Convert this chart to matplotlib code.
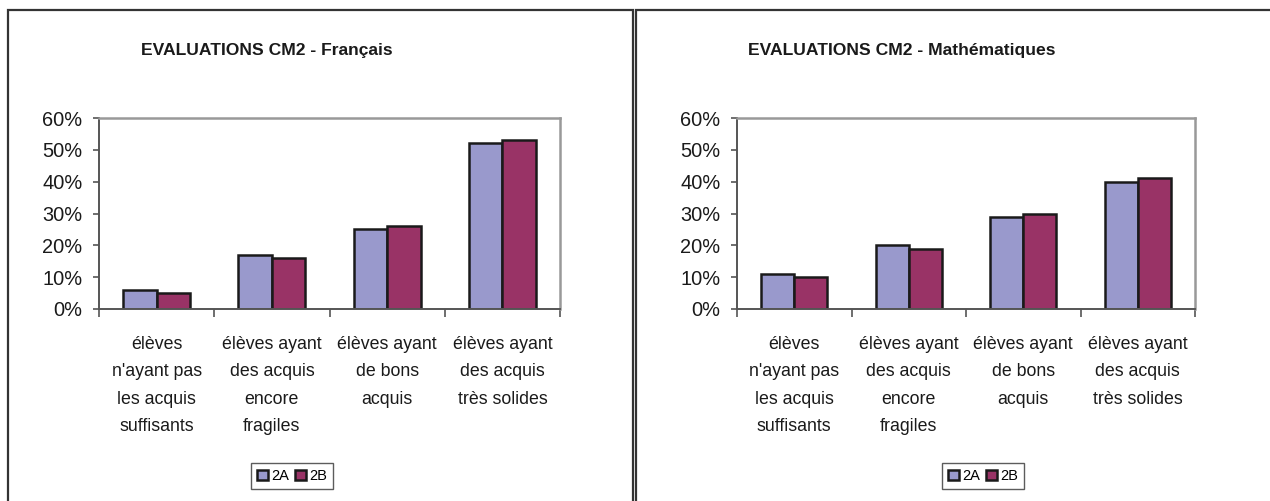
import matplotlib
matplotlib.use("Agg")
import matplotlib.pyplot as plt
from matplotlib.patches import Rectangle
from matplotlib.transforms import offset_copy
import numpy as np

plt.rcParams['font.family'] = ['Liberation Sans', 'DejaVu Sans']

categories = ["élèves\nn'ayant pas\nles acquis\nsuffisants",
              "élèves ayant\ndes acquis\nencore\nfragiles",
              "élèves ayant\nde bons\nacquis",
              "élèves ayant\ndes acquis\ntrès solides"]
series_names = ["2A", "2B"]
fr_2A = [6, 17, 25, 52]
fr_2B = [5, 16, 26, 53]
ma_2A = [11, 20, 29, 40]
ma_2B = [10, 19, 30, 41]
titles = ["EVALUATIONS CM2 - Français", "EVALUATIONS CM2 - Mathématiques"]
yticks = [0, 10, 20, 30, 40, 50, 60]
ytick_labels = ["0%", "10%", "20%", "30%", "40%", "50%", "60%"]

col_a = "#9999CC"
col_b = "#993366"

W, H = 1270, 501
fig = plt.figure(figsize=(W / 100, H / 100), dpi=100)

def fx(px):
    return px / W

def fy(py):
    return 1 - py / H

# panel borders
for (x0, x1) in [(8, 633), (636, 1300)]:
    fig.patches.append(Rectangle((fx(x0), fy(540)), fx(x1 - x0), (540 - 10) / H,
                                 transform=fig.transFigure, fill=False,
                                 edgecolor="#333333", linewidth=1.6, zorder=0))

panels = [
    dict(a=fr_2A, b=fr_2B, title=titles[0], ax=(99, 560), tx=267, lx=292),
    dict(a=ma_2A, b=ma_2B, title=titles[1], ax=(737, 1195), tx=902, lx=983),
]

bw = 0.29
x = np.arange(len(categories))
for p in panels:
    l, r = p["ax"]
    ax = fig.add_axes([fx(l), fy(309), fx(r - l), (309 - 118) / H])
    ba = ax.bar(x - bw / 2, p["a"], bw, color=col_a, edgecolor="#1a1a1a", linewidth=1.8, label=series_names[0])
    bb = ax.bar(x + bw / 2, p["b"], bw, color=col_b, edgecolor="#1a1a1a", linewidth=1.8, label=series_names[1])
    ax.set_xlim(-0.5, len(categories) - 0.5)
    ax.set_ylim(0, 60)
    ax.set_yticks(yticks)
    ax.set_yticklabels(ytick_labels, fontsize=14.4, color="#1a1a1a")
    ax.set_xticks(np.arange(-0.5, len(categories), 1.0))
    ax.set_xticklabels([])
    tr = offset_copy(ax.get_xaxis_transform(), fig=fig, x=0, y=-19.5, units="points")
    for xi, cat in zip(x, categories):
        ax.text(xi, 0, cat, transform=tr, ha="center", va="top", fontsize=12.8,
                color="#1a1a1a", linespacing=1.79, clip_on=False)
    ax.tick_params(axis="x", which="major", direction="out", length=6, width=1.2, color="#555555")
    ax.tick_params(axis="y", direction="out", length=4, width=1.2, color="#555555", pad=8)
    for s in ["top", "right"]:
        ax.spines[s].set_color("#999999")
        ax.spines[s].set_linewidth(1.8)
    for s in ["left", "bottom"]:
        ax.spines[s].set_color("#555555")
        ax.spines[s].set_linewidth(1.4)
    fig.text(fx(p["tx"]), fy(50), p["title"], ha="center", va="center",
             fontsize=12.6, fontweight="bold", color="#1a1a1a")
    leg = fig.legend(handles=[ba, bb], labels=series_names, loc="center",
                     bbox_to_anchor=(fx(p["lx"]), fy(476)), bbox_transform=fig.transFigure,
                     ncol=2, fontsize=10.5, frameon=True, fancybox=False,
                     handlelength=0.75, handleheight=0.75, handletextpad=0.2,
                     columnspacing=0.45, borderpad=0.4, borderaxespad=0)
    leg.get_frame().set_edgecolor("#333333")
    leg.get_frame().set_linewidth(1.0)

fig.savefig("out.png", dpi=100, facecolor="white")
